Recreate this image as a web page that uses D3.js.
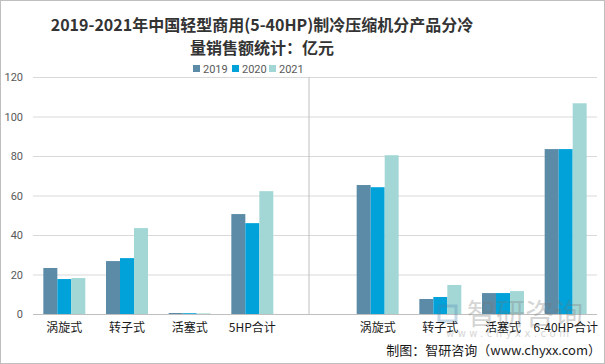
<!DOCTYPE html>
<html><head><meta charset="utf-8">
<script src="https://cdn.jsdelivr.net/npm/d3@7"></script>
<style>body{margin:0;background:#fff}svg{display:block}</style>
</head><body><svg id="c" width="605" height="364"></svg>
<script>
const categories = ["涡旋式","转子式","活塞式","5HP合计","","涡旋式","转子式","活塞式","6-40HP合计"];
const years = ["2019","2020","2021"];
const v2019 = [23.3,26.8,0.5,50.6,null,65.3,7.6,10.6,83.5];
const v2020 = [17.7,28.3,0.4,46.0,null,64.2,8.6,10.6,83.5];
const v2021 = [18.2,43.5,0.3,62.2,null,80.4,14.7,11.6,106.7];
const yTicks = [0,20,40,60,80,100,120];
const colors = ["#5b8ba6","#00a2d9","#a3d7d6"];
const series = [v2019,v2020,v2021];

const svg = d3.select("#c");
svg.append("rect").attr("x",0.5).attr("y",0.5).attr("width",604).attr("height",363).attr("fill","#fff").attr("stroke","#bfbfbf");

const L=33,R=597,T=77,B=314;
const x = d3.scaleBand().domain(d3.range(categories.length)).range([L,R]).paddingInner(0.33).paddingOuter(0.165);
const xs = d3.scaleBand().domain(years).range([0,x.bandwidth()]);
const y = d3.scaleLinear().domain([0,120]).range([B,T]);

// grid
svg.append("g").selectAll("line").data(yTicks).join("line")
  .attr("x1",L).attr("x2",R).attr("y1",d=>y(d)+0.5).attr("y2",d=>y(d)+0.5)
  .attr("stroke",d=>d===0?"#bfbfbf":"#d9d9d9");
// y labels
const ya = svg.append("g").attr("transform",`translate(${L-10},0)`)
  .call(d3.axisLeft(y).tickValues(yTicks).tickSize(0).tickPadding(0));
ya.select(".domain").remove();
ya.selectAll("text").attr("fill","#595959").style("font-family","Roboto, 'Liberation Sans', sans-serif").style("font-size","11px");

// separator
const sepX = x(4)+x.bandwidth()/2 - 6;
svg.append("line").attr("x1",sepX).attr("x2",sepX).attr("y1",T).attr("y2",B).attr("stroke","#bfbfbf");

// bars
series.forEach((s,i)=>{
  svg.append("g").selectAll("rect").data(s.map((v,j)=>({v,j})).filter(d=>d.v!=null)).join("rect")
    .attr("x",d=>x(d.j)+xs(years[i])).attr("width",xs.bandwidth())
    .attr("y",d=>y(d.v)).attr("height",d=>B-y(d.v)).attr("fill",colors[i]);
});

// watermark (behind labels)
const wm = svg.append("g").attr("opacity",0.3);
wm.append("rect").attr("x",439).attr("y",306).attr("width",17).attr("height",15).attr("fill","none").attr("stroke","#4a7fb0").attr("stroke-width",3);
wm.append("text").attr("x",467).attr("y",325).attr("font-family","'Noto Sans CJK SC', sans-serif").attr("font-size","29px").attr("fill","#777").text("智研咨询");
wm.append("text").attr("x",446).attr("y",337).attr("font-family","'DejaVu Sans', sans-serif").attr("font-size","10px").attr("fill","#777").attr("letter-spacing","3.5px").text("www.chyxx.com");

// x labels
const xa = svg.append("g").attr("transform",`translate(0,${B})`)
  .call(d3.axisBottom(x).tickFormat(i=>categories[i]).tickSize(0).tickPadding(9));
xa.select(".domain").remove();
xa.selectAll("text").attr("fill","#1a1a1a").style("font-family","'Noto Sans CJK SC', sans-serif").style("font-size","12px");

// title
const title = svg.append("g").attr("font-family","'Noto Sans CJK SC', sans-serif").attr("font-weight","bold").attr("font-size","16px").attr("fill","#333").attr("text-anchor","middle");
title.append("text").attr("x",262).attr("y",31).text("2019-2021年中国轻型商用(5-40HP)制冷压缩机分产品分冷");
title.append("text").attr("x",262).attr("y",54).text("量销售额统计：亿元");

// legend
const lg = svg.append("g").attr("font-family","Roboto, 'Liberation Sans', sans-serif").attr("font-size","11px").attr("fill","#595959");
const lx=[193,232,269];
years.forEach((yr,i)=>{
  lg.append("rect").attr("x",lx[i]).attr("y",65).attr("width",7).attr("height",7).attr("fill",colors[i]);
  lg.append("text").attr("x",lx[i]+10).attr("y",73).text(yr);
});

// source
svg.append("text").attr("x",601).attr("y",355).attr("text-anchor","end").attr("font-family","'Noto Sans CJK SC', sans-serif").attr("font-size","13px").attr("fill","#1a1a1a").text("制图：智研咨询（www.chyxx.com）");
</script></body></html>
